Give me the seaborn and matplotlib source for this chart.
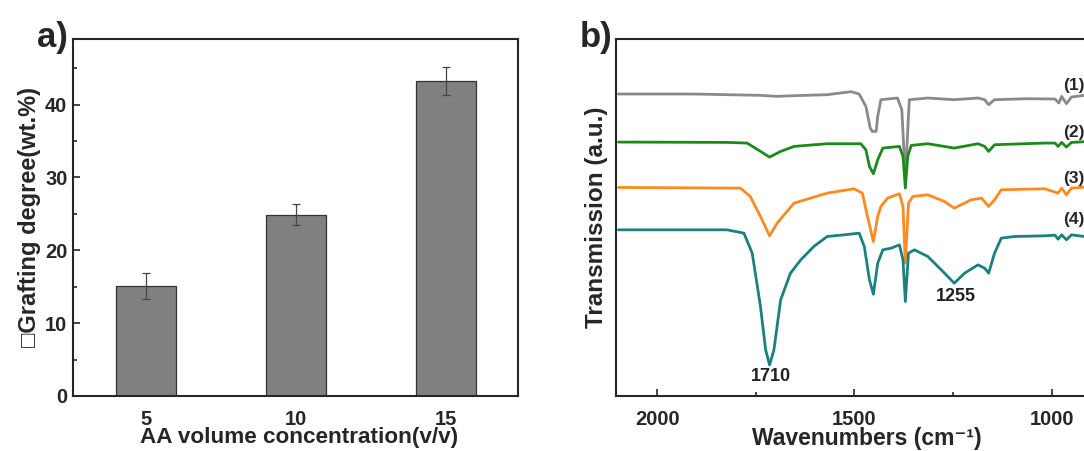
import numpy as np
import pandas as pd
import matplotlib
matplotlib.use("Agg")
import matplotlib.pyplot as plt
import seaborn as sns
from matplotlib.ticker import MultipleLocator

# ---- panel a) data ----
conc = ["5", "10", "15"]
grafting = [15.1, 24.9, 43.2]
grafting_err = [1.8, 1.4, 1.9]

# ---- panel b) data: FTIR spectra (wavenumber, a.u.) ----
wn1 = [2098, 1908, 1738, 1696, 1653, 1569, 1509, 1488, 1471, 1460, 1455, 1445, 1441, 1433,
       1391, 1380, 1371, 1361, 1314, 1247, 1187, 1170, 1160, 1145, 1060, 992, 982,
       975, 963, 950, 918]
t1 = [90.5, 90.5, 90.1, 89.8, 90.0, 90.3, 91.2, 90.5, 86.8, 80.3, 79.3, 79.3, 83.8, 88.8,
      89.3, 85.8, 65.5, 88.8, 89.3, 88.8, 89.3, 88.8, 87.3, 88.8, 89.1, 89.0, 87.8,
      89.8, 87.6, 89.6, 90.1]

wn2 = [2098, 1823, 1772, 1738, 1715, 1687, 1653, 1569, 1484, 1471, 1462, 1452, 1441,
       1428, 1386, 1377, 1371, 1365, 1356, 1314, 1247, 1187, 1170, 1160, 1145, 1018,
       992, 984, 975, 963, 950, 918]
t2 = [76.1, 76.0, 75.8, 73.3, 71.6, 73.3, 74.8, 75.6, 75.6, 73.8, 68.8, 66.6, 70.8,
      74.3, 74.8, 71.8, 62.3, 71.8, 75.1, 75.6, 74.3, 75.6, 74.8, 73.3, 75.3, 75.8,
      75.8, 74.8, 76.0, 74.6, 76.0, 76.2]

wn3 = [2098, 1789, 1764, 1738, 1715, 1696, 1653, 1569, 1501, 1480, 1467, 1452, 1441,
       1433, 1416, 1386, 1377, 1371, 1363, 1352, 1314, 1272, 1247, 1204, 1178, 1160,
       1145, 1128, 1018, 984, 975, 963, 950, 918]
t3 = [62.5, 62.3, 59.8, 53.8, 48.0, 51.8, 57.8, 60.8, 62.1, 60.8, 53.8, 46.3, 53.8,
      56.8, 59.3, 60.6, 56.8, 39.8, 57.8, 59.8, 60.3, 58.3, 56.3, 58.8, 59.3, 56.8,
      58.8, 61.8, 62.1, 60.8, 62.3, 60.3, 62.3, 62.6]

wn4 = [2098, 1823, 1780, 1759, 1738, 1725, 1715, 1704, 1687, 1662, 1636, 1603, 1569,
       1526, 1488, 1475, 1462, 1452, 1441, 1428, 1407, 1386, 1377, 1371, 1363, 1348,
       1314, 1280, 1247, 1221, 1187, 1170, 1160, 1145, 1128, 1094, 1018, 992, 984,
       975, 963, 950, 918]
t4 = [49.8, 49.8, 48.8, 42.8, 26.8, 13.8, 9.3, 13.8, 28.8, 36.8, 40.8, 44.8, 47.8,
      48.3, 48.8, 44.8, 34.8, 30.5, 39.8, 43.8, 44.3, 45.3, 40.8, 28.3, 42.8, 43.8,
      41.8, 37.8, 33.8, 36.8, 39.3, 38.3, 36.8, 42.8, 47.3, 47.8, 48.0, 48.2, 47.0,
      48.3, 46.8, 48.3, 47.8]

spec_labels = ["(1)", "(2)", "(3)", "(4)"]
spec_label_y = [93.0, 79.0, 65.3, 52.8]
spec_colors = ["#8a8a8a", "#1b8a1b", "#ff8a1f", "#1a8080"]
peak_wn = [1711, 1244]
peak_y = [5.8, 29.8]
peak_text = ["1710", "1255"]

sns.set_style("ticks")
plt.rcParams["font.family"] = ["Liberation Sans", "DejaVu Sans"]
plt.rcParams["font.weight"] = "bold"

fig = plt.figure(figsize=(10.84, 4.51), dpi=100)
ax1 = fig.add_axes([0.0673, 0.122, 0.4105, 0.7916])
ax2 = fig.add_axes([0.5683, 0.122, 0.4566, 0.7916])

# ---- a) bar chart ----
df_a = pd.DataFrame({"conc": conc, "grafting": grafting})
sns.barplot(data=df_a, x="conc", y="grafting", color="#808080", width=0.4,
            edgecolor="#333333", linewidth=0.9, saturation=1, errorbar=None, ax=ax1)
ax1.errorbar(np.arange(len(conc)), grafting, yerr=grafting_err, fmt="none",
             ecolor="#444444", elinewidth=0.9, capsize=3, capthick=0.9)
ax1.set_xlim(-0.49, 2.48)
ax1.set_ylim(0, 49)
ax1.yaxis.set_major_locator(MultipleLocator(10))
ax1.yaxis.set_minor_locator(MultipleLocator(5))
ax1.tick_params(axis="y", which="both", direction="in", labelsize=14.5, width=1.2, pad=4)
ax1.tick_params(axis="y", which="major", length=5)
ax1.tick_params(axis="y", which="minor", length=3)
ax1.tick_params(axis="x", length=0, labelsize=14.5, pad=10)
ax1.set_xlabel("AA volume concentration(v/v)", fontsize=16.2, fontweight="bold", va="baseline")
ax1.xaxis.set_label_coords(0.508, -0.133)
ax1.set_ylabel("\u25a1Grafting degree(wt.%)", fontsize=17, fontweight="bold", labelpad=3)
for s in ax1.spines.values():
    s.set_linewidth(1.5)
    s.set_visible(True)
fig.text(0.034, 0.895, "a)", fontsize=25, fontweight="bold")

# ---- b) FTIR spectra ----
for wn, t, c in zip([wn1, wn2, wn3, wn4], [t1, t2, t3, t4], spec_colors):
    sns.lineplot(x=wn, y=t, color=c, linewidth=2.0, estimator=None, ax=ax2)
for lab, y in zip(spec_labels, spec_label_y):
    ax2.text(972, y, lab, fontsize=12.5, fontweight="bold", ha="left", va="center")
for w, y, txt in zip(peak_wn, peak_y, peak_text):
    ax2.text(w, y, txt, fontsize=13, fontweight="bold", ha="center", va="center", color="#222222")
ax2.set_xlim(2104, 850)
ax2.set_ylim(0, 107)
ax2.set_yticks([])
ax2.xaxis.set_major_locator(MultipleLocator(500))
ax2.xaxis.set_minor_locator(MultipleLocator(250))
ax2.tick_params(axis="x", which="both", direction="in", labelsize=14.5, width=1.2, pad=10)
ax2.tick_params(axis="x", which="major", length=5)
ax2.tick_params(axis="x", which="minor", length=3)
ax2.set_xlabel("Wavenumbers (cm\u207b\u00b9)", fontsize=16.5, fontweight="bold", va="baseline")
ax2.xaxis.set_label_coords(0.507, -0.137)
ax2.set_ylabel("Transmission (a.u.)", fontsize=17.5, fontweight="bold", labelpad=6)
for s in ax2.spines.values():
    s.set_linewidth(1.5)
    s.set_visible(True)
fig.text(0.535, 0.895, "b)", fontsize=25, fontweight="bold")

fig.savefig("out.png", dpi=100)
